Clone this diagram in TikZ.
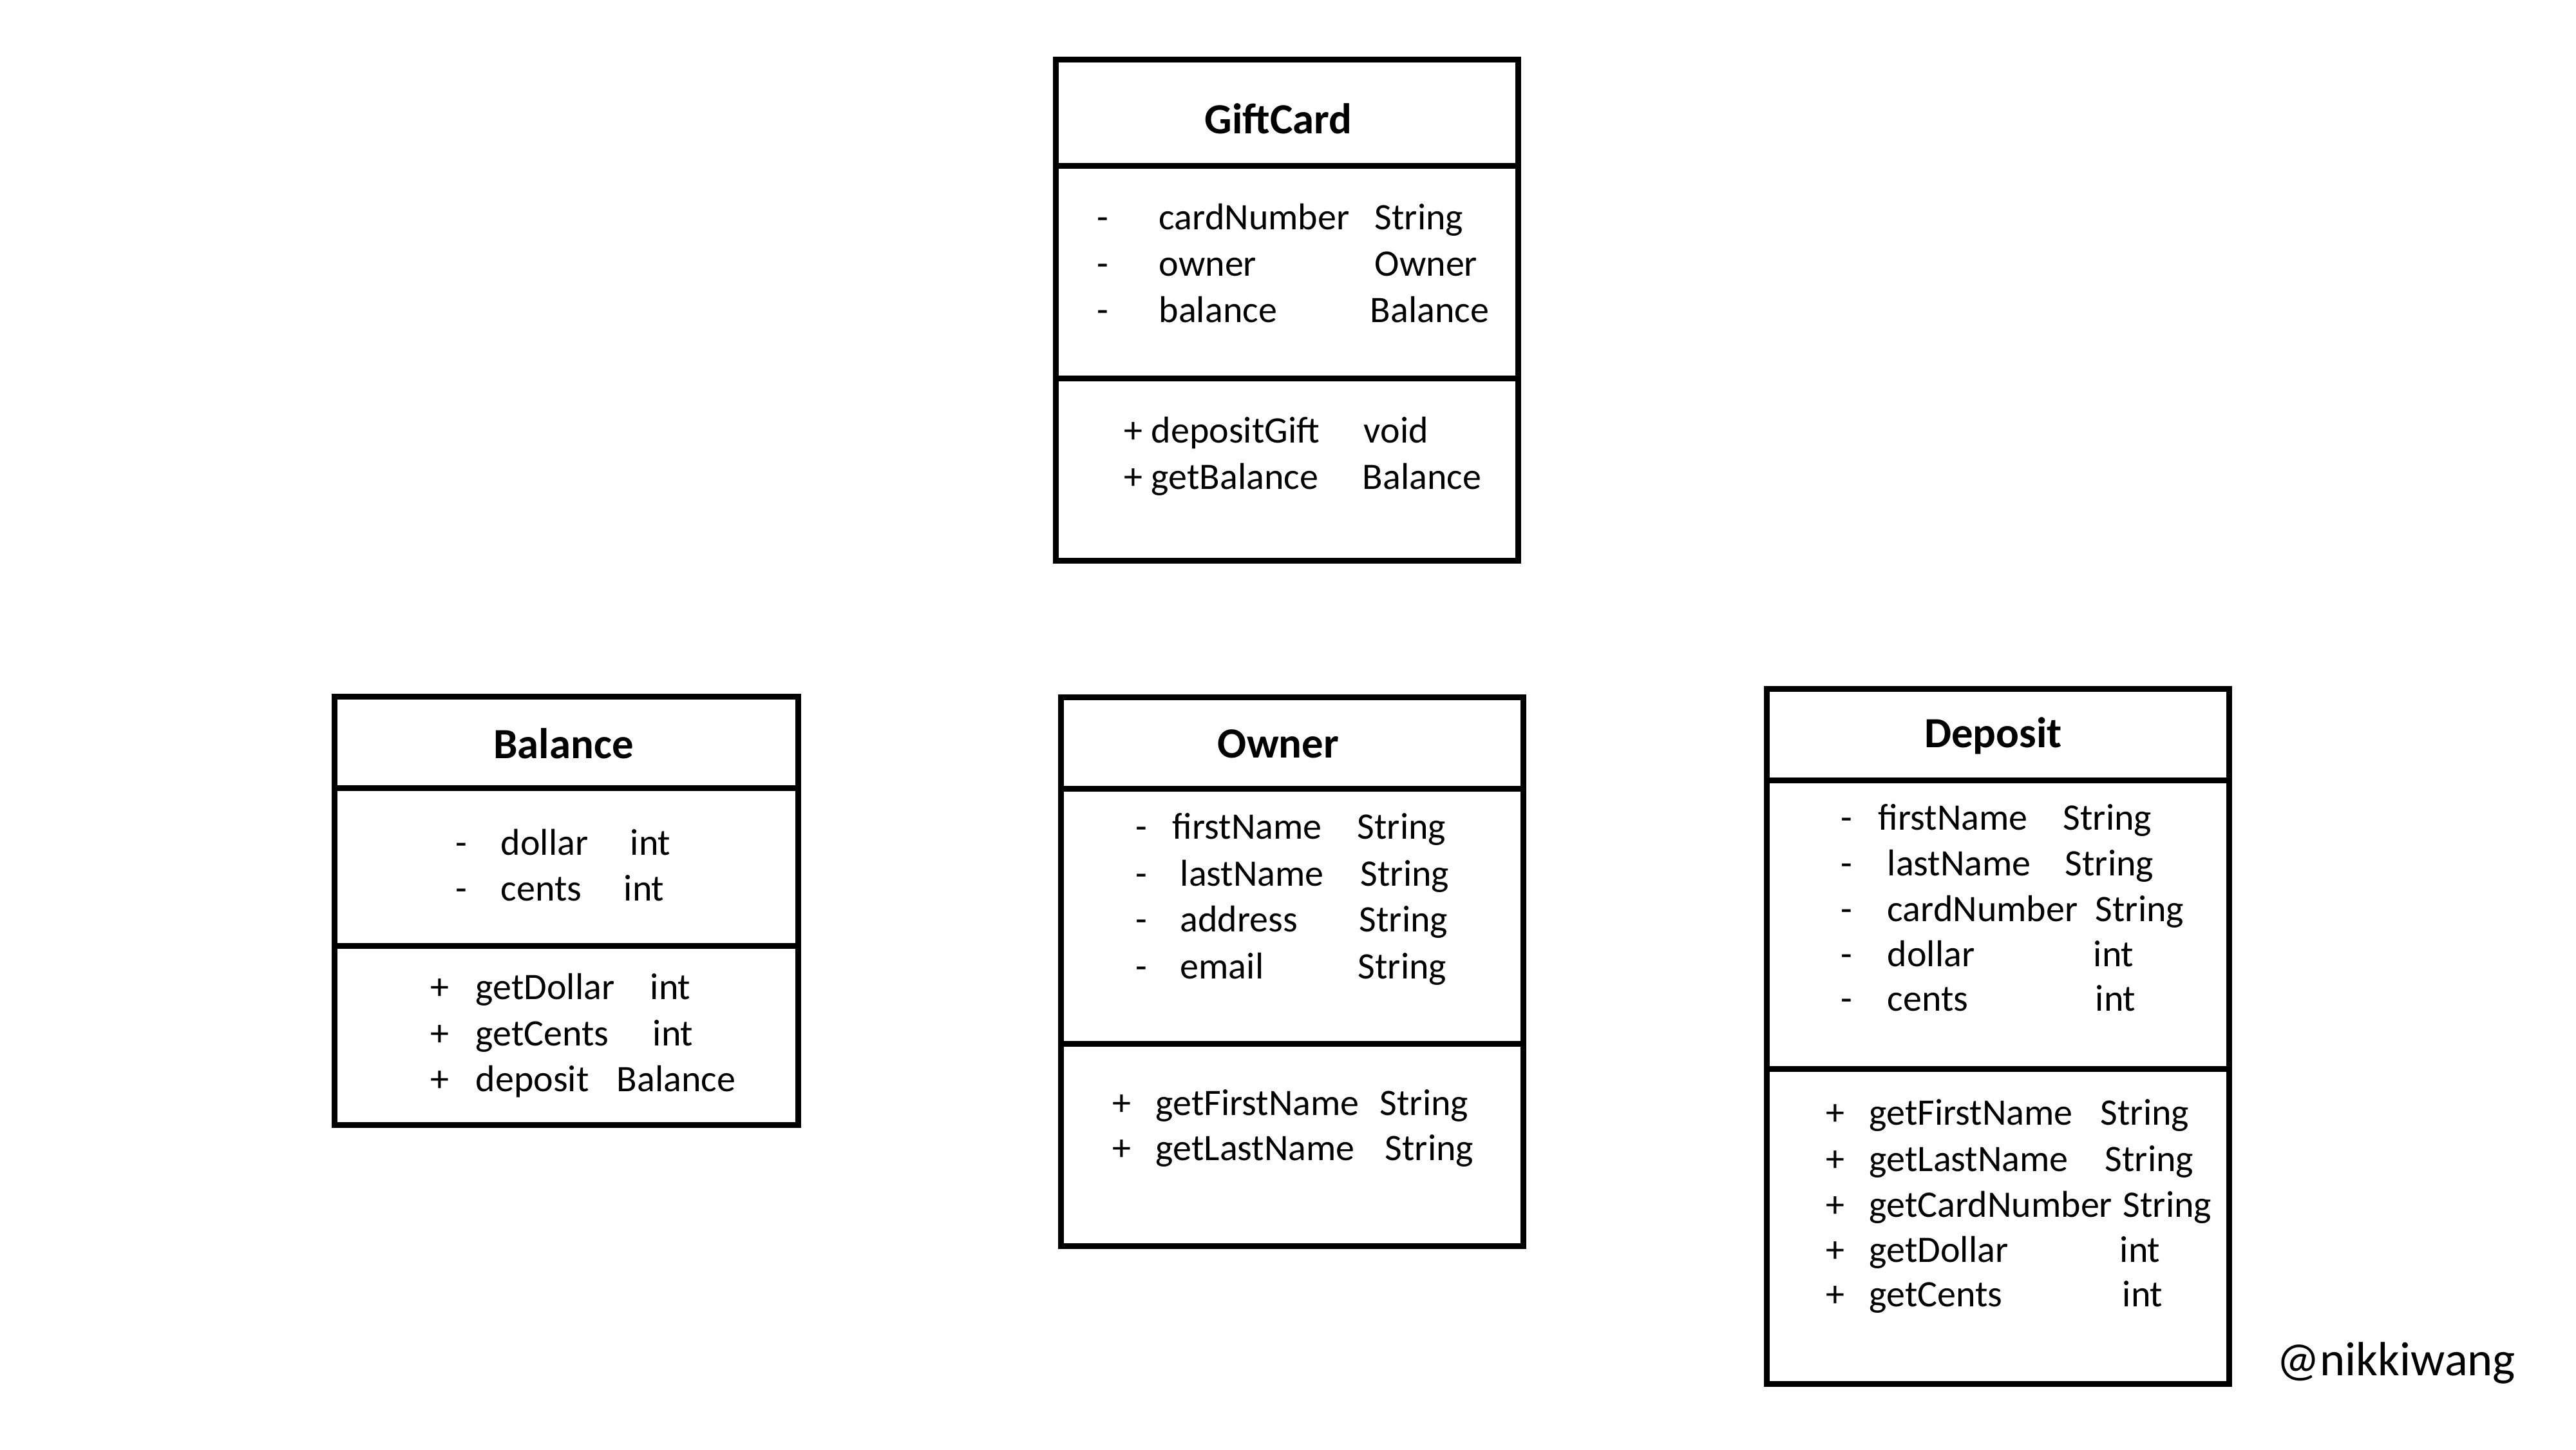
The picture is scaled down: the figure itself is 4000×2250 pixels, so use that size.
\documentclass[tikz,border=0pt]{standalone}
\usepackage{fontspec}
\setmainfont{Carlito}
\tikzset{
  umlbox/.style={draw, line width=2.56pt, inner sep=0pt, rectangle},
  divider/.style={line width=2.56pt},
  titletext/.style={font=\bfseries\fontsize{19pt}{23pt}\selectfont, anchor=base, inner sep=0pt},
  txt/.style={font=\fontsize{16.5pt}{20pt}\selectfont, anchor=base west, inner sep=0pt},
  mark text/.style={font=\fontsize{21.2pt}{25pt}\selectfont, anchor=base west, inner sep=0pt},
}
\newcommand\cell[4]{\node[txt] (#1) at (#2,#3) {#4};}
\begin{document}
\begin{tikzpicture}[x=0.01cm,y=-0.01cm]
\useasboundingbox[fill=white] (0,0) rectangle (4000,2250);

% ---------- GiftCard ----------
\node[umlbox, minimum width=7.17cm, minimum height=7.77cm] (gc) at (1998.5,481.5) {};
\coordinate (gcd1) at (0,257);
\coordinate (gcd2) at (0,587);
\draw[divider] (gc.west |- gcd1) -- (gc.east |- gcd1);
\draw[divider] (gc.west |- gcd2) -- (gc.east |- gcd2);
\node[titletext] (gct) at (1985,207) {GiftCard};
\cell{gca1}{1703}{356}{-}\cell{gcn1}{1799}{356}{cardNumber}\cell{gcy1}{2134}{356}{String}
\cell{gca2}{1703}{428}{-}\cell{gcn2}{1799}{428}{owner}\cell{gcy2}{2134}{428}{Owner}
\cell{gca3}{1703}{500}{-}\cell{gcn3}{1799}{500}{balance}\cell{gcy3}{2127}{500}{Balance}
\cell{gcm1}{1745}{687}{+ depositGift}\cell{gcr1}{2117}{687}{void}
\cell{gcm2}{1745}{759}{+ getBalance}\cell{gcr2}{2115}{759}{Balance}

% ---------- Balance ----------
\node[umlbox, minimum width=7.19cm, minimum height=6.64cm] (bal) at (879.5,1414) {};
\coordinate (bald1) at (0,1223);
\coordinate (bald2) at (0,1468);
\draw[divider] (bal.west |- bald1) -- (bal.east |- bald1);
\draw[divider] (bal.west |- bald2) -- (bal.east |- bald2);
\node[titletext] (balt) at (875,1177) {Balance};
\cell{bala1}{707}{1327}{-}\cell{baln1}{777}{1327}{dollar}\cell{baly1}{978}{1327}{int}
\cell{bala2}{707}{1398}{-}\cell{baln2}{777}{1398}{cents}\cell{baly2}{968}{1398}{int}
\cell{balp1}{668}{1551}{+}\cell{balm1}{738}{1551}{getDollar}\cell{balr1}{1009}{1551}{int}
\cell{balp2}{668}{1623}{+}\cell{balm2}{738}{1623}{getCents}\cell{balr2}{1013}{1623}{int}
\cell{balp3}{668}{1694}{+}\cell{balm3}{738}{1694}{deposit}\cell{balr3}{957}{1694}{Balance}

% ---------- Owner ----------
\node[umlbox, minimum width=7.17cm, minimum height=8.51cm] (own) at (2006.5,1508.5) {};
\coordinate (ownd1) at (0,1224);
\coordinate (ownd2) at (0,1620);
\draw[divider] (own.west |- ownd1) -- (own.east |- ownd1);
\draw[divider] (own.west |- ownd2) -- (own.east |- ownd2);
\node[titletext] (ownt) at (1985,1176) {Owner};
\cell{owna1}{1763}{1302}{-}\cell{ownn1}{1820}{1302}{firstName}\cell{owny1}{2107}{1302}{String}
\cell{owna2}{1763}{1375}{-}\cell{ownn2}{1832}{1375}{lastName}\cell{owny2}{2112}{1375}{String}
\cell{owna3}{1763}{1446}{-}\cell{ownn3}{1832}{1446}{address}\cell{owny3}{2110}{1446}{String}
\cell{owna4}{1763}{1519}{-}\cell{ownn4}{1832}{1519}{email}\cell{owny4}{2108}{1519}{String}
\cell{ownp1}{1727}{1731}{+}\cell{ownm1}{1794}{1731}{getFirstName}\cell{ownr1}{2142}{1731}{String}
\cell{ownp2}{1727}{1801}{+}\cell{ownm2}{1794}{1801}{getLastName}\cell{ownr2}{2150}{1801}{String}

% ---------- Deposit ----------
\node[umlbox, minimum width=7.17cm, minimum height=10.78cm] (dep) at (3102.5,1609) {};
\coordinate (depd1) at (0,1211);
\coordinate (depd2) at (0,1659);
\draw[divider] (dep.west |- depd1) -- (dep.east |- depd1);
\draw[divider] (dep.west |- depd2) -- (dep.east |- depd2);
\node[titletext] (dept) at (3095,1160) {Deposit};
\cell{depa1}{2858}{1288}{-}\cell{depn1}{2916}{1288}{firstName}\cell{depy1}{3203}{1288}{String}
\cell{depa2}{2858}{1359}{-}\cell{depn2}{2930}{1359}{lastName}\cell{depy2}{3206}{1359}{String}
\cell{depa3}{2858}{1430}{-}\cell{depn3}{2930}{1430}{cardNumber}\cell{depy3}{3253}{1430}{String}
\cell{depa4}{2858}{1500}{-}\cell{depn4}{2930}{1500}{dollar}\cell{depy4}{3250}{1500}{int}
\cell{depa5}{2858}{1569}{-}\cell{depn5}{2930}{1569}{cents}\cell{depy5}{3253}{1569}{int}
\cell{depp1}{2835}{1746}{+}\cell{depm1}{2902}{1746}{getFirstName}\cell{depr1}{3261}{1746}{String}
\cell{depp2}{2835}{1818}{+}\cell{depm2}{2902}{1818}{getLastName}\cell{depr2}{3268}{1818}{String}
\cell{depp3}{2835}{1889}{+}\cell{depm3}{2902}{1889}{getCardNumber}\cell{depr3}{3296}{1889}{String}
\cell{depp4}{2835}{1959}{+}\cell{depm4}{2902}{1959}{getDollar}\cell{depr4}{3291}{1959}{int}
\cell{depp5}{2835}{2028}{+}\cell{depm5}{2902}{2028}{getCents}\cell{depr5}{3295}{2028}{int}

% ---------- watermark ----------
\node[mark text] (wm) at (3535,2135) {@nikkiwang};
\end{tikzpicture}
\end{document}
